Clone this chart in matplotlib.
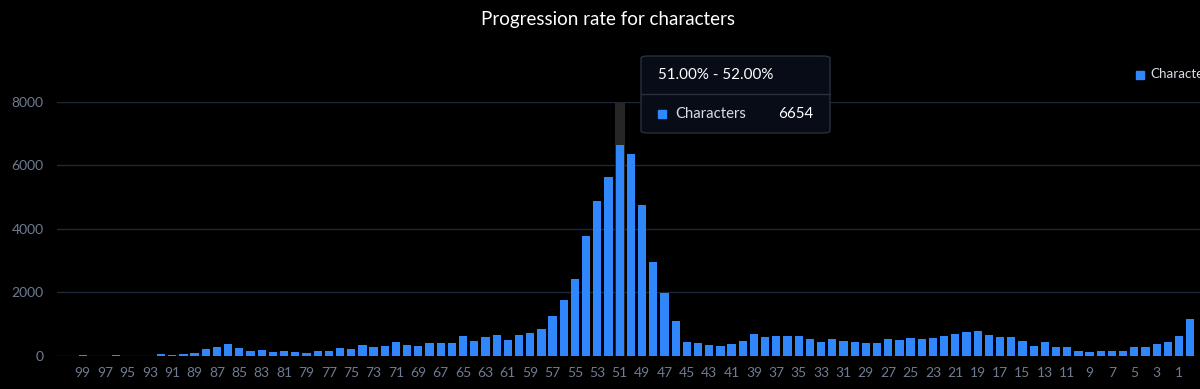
import matplotlib.pyplot as plt
from matplotlib.patches import FancyBboxPatch, Rectangle

# progression buckets, 99 down to 0
buckets = list(range(99, -1, -1))
counts = [10, 5, 5, 20, 5, 5, 5, 50, 20, 50,
          85, 210, 260, 370, 240, 135, 170, 115, 150, 115,
          75, 160, 135, 240, 200, 325, 275, 305, 430, 335,
          305, 410, 390, 390, 630, 460, 580, 640, 485, 660,
          715, 850, 1240, 1770, 2420, 3760, 4885, 5630, 6654, 6350,
          4740, 2970, 1990, 1095, 425, 385, 325, 295, 360, 465,
          685, 590, 620, 610, 620, 515, 440, 515, 450, 430,
          410, 410, 535, 485, 570, 535, 545, 620, 675, 760,
          780, 655, 580, 590, 450, 305, 430, 275, 275, 160,
          125, 160, 135, 135, 285, 265, 380, 420, 610, 1150]
yticks = [0, 2000, 4000, 6000, 8000]
hover = 51
series_name = "Characters"

bg = "#000000"
blue = "#2f87fb"
grid = "#1c2738"
tick_col = "#6f7b90"

plt.rcParams['font.family'] = ['Lato', 'DejaVu Sans']

fig = plt.figure(figsize=(12, 3.89), dpi=100, facecolor=bg)
ax = fig.add_axes([57 / 1200, 33.3 / 389, 1 - 57 / 1200, 253.7 / 389])
ax.set_facecolor(bg)

x = list(range(len(buckets)))
hi = buckets.index(hover)
ax.bar([hi], [yticks[-1]], width=0.92, color="#262626", zorder=1)
ax.bar(x, counts, width=0.74, color=blue, zorder=2)

ax.set_ylim(0, yticks[-1])
ax.set_xlim(-2.3, 99.87)
ax.set_yticks(yticks)
ax.set_yticklabels([str(v) for v in yticks])
ax.grid(axis='y', color=grid, linewidth=1, zorder=0)
ax.set_axisbelow(True)

ticks = [i for i, b in enumerate(buckets) if b % 2 == 1]
ax.set_xticks(ticks)
ax.set_xticklabels([str(buckets[i]) for i in ticks])
ax.tick_params(axis='both', length=0, colors=tick_col, labelsize=10)
ax.tick_params(axis='x', pad=8)
ax.tick_params(axis='y', pad=9.5)
for s in ax.spines.values():
    s.set_visible(False)

fig.text(608 / 1200, 1 - 20 / 389, "Progression rate for characters", color="white",
         fontsize=13.5, ha='center', va='center')

# legend (cut at the right edge, as in the screenshot)
fig.patches.append(Rectangle((1136 / 1200, 1 - 79 / 389), 8 / 1200, 8 / 389,
                             transform=fig.transFigure, color=blue))
fig.text(1150 / 1200, 1 - 74.5 / 389, series_name, color="#d8dde6", fontsize=9.6, va='center')

# tooltip
fig.patches.append(FancyBboxPatch((641 / 1200, 1 - 133 / 389), 189 / 1200, 77 / 389,
                                  boxstyle="round,pad=0,rounding_size=0.006",
                                  transform=fig.transFigure, facecolor="#070c16",
                                  edgecolor="#27303f", linewidth=1, zorder=5))
fig.lines.append(plt.Line2D([641 / 1200, 830 / 1200], [1 - 94 / 389, 1 - 94 / 389],
                            transform=fig.transFigure, color="#27303f", linewidth=1, zorder=6))
fig.text(658 / 1200, 1 - 75 / 389, "%.2f%% - %.2f%%" % (hover, hover + 1), color="white",
         fontsize=10.9, va='center', zorder=7)
fig.patches.append(Rectangle((658 / 1200, 1 - 117.5 / 389), 8 / 1200, 8 / 389,
                             transform=fig.transFigure, color=blue, zorder=7))
fig.text(675 / 1200, 1 - 113.5 / 389, series_name, color="#d8dde6", fontsize=10.7,
         va='center', zorder=7)
fig.text(813 / 1200, 1 - 113.5 / 389, str(counts[hi]), color="white", fontsize=10.9,
         va='center', ha='right', zorder=7)

fig.savefig("out.png", facecolor=bg)
